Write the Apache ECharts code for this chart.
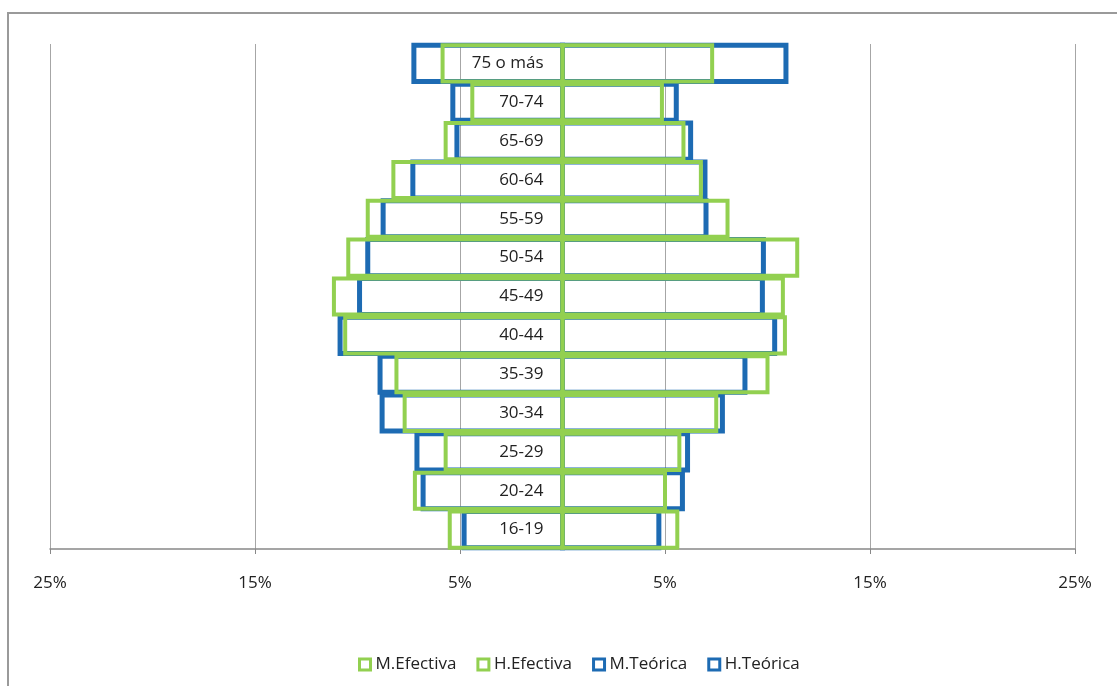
<!DOCTYPE html>
<html>
<head>
<meta charset="utf-8">
<script src="https://cdn.jsdelivr.net/npm/echarts@6/dist/echarts.min.js"></script>
<style>
  html, body { margin: 0; padding: 0; background: #fff; }
  #chart { width: 1117px; height: 686px; }
</style>
</head>
<body>
<div id="chart"></div>
<script>
// age groups, bottom to top
const ageGroups = ['16-19', '20-24', '25-29', '30-34', '35-39', '40-44', '45-49',
  '50-54', '55-59', '60-64', '65-69', '70-74', '75 o más'];

// percentages (women on the left side, men on the right side)
const mEfectiva = [5.5, 7.2, 5.7, 7.7, 8.1, 10.6, 11.15, 10.45, 9.5, 8.25, 5.7, 4.4, 5.85];
const hEfectiva = [5.6, 5.0, 5.7, 7.5, 10.0, 10.85, 10.75, 11.45, 8.05, 6.75, 5.9, 4.85, 7.3];
const mTeorica = [4.8, 6.8, 7.1, 8.8, 8.9, 10.85, 9.9, 9.5, 8.75, 7.3, 5.15, 5.35, 7.25];
const hTeorica = [4.7, 5.85, 6.1, 7.8, 8.9, 10.35, 9.75, 9.8, 7.0, 6.95, 6.25, 5.55, 10.9];

const axisTicks = [-25, 25, 10];

const green = '#92D050';
const blue = '#1D6BB3';
const font = 'Open Sans';

const chart = echarts.init(document.getElementById('chart'), null, { renderer: 'canvas' });

// outlined bars, stroke centred on the bar edge like the original
function barSeries(name, data, color, width, left) {
  return {
    name: name,
    type: 'custom',
    encode: { x: 0, y: 1 },
    data: data.map((v, i) => [left ? -v : v, i]),
    itemStyle: { color: color },
    renderItem: function (params, api) {
      const cat = api.value(1);
      const p0 = api.coord([0, cat]);
      const p1 = api.coord([api.value(0), cat]);
      const h = api.size([0, 1])[1] * 0.93;
      return {
        type: 'rect',
        shape: {
          x: Math.min(p0[0], p1[0]),
          y: p0[1] - h / 2,
          width: Math.abs(p1[0] - p0[0]),
          height: h
        },
        style: { fill: 'none', stroke: color, lineWidth: width }
      };
    },
    emphasis: { disabled: true }
  };
}

const legendIcon = (name, color) => ({
  name: name,
  itemStyle: { color: '#fff', borderColor: color, borderWidth: 3 }
});

const frame = { stroke: '#9a9a9a', lineWidth: 2 };

const opt = {
  animation: false,
  textStyle: { fontFamily: font },
  graphic: [
    { type: 'line', z: 100, silent: true, shape: { x1: 7, y1: 13, x2: 1117, y2: 13 }, style: frame },
    { type: 'line', z: 100, silent: true, shape: { x1: 8, y1: 12, x2: 8, y2: 686 }, style: frame }
  ],
  grid: {
    left: 50,
    right: 42,
    top: 44,
    bottom: 137,
    outerBoundsMode: 'none'
  },
  legend: {
    left: 353,
    top: 651,
    itemWidth: 11,
    itemHeight: 11,
    itemGap: 20,
    icon: 'rect',
    textStyle: { fontFamily: font, fontSize: 17, color: '#222' },
    data: [
      legendIcon('M.Efectiva', green),
      legendIcon('H.Efectiva', green),
      legendIcon('M.Teórica', blue),
      legendIcon('H.Teórica', blue)
    ]
  },
  xAxis: {
    type: 'value',
    min: axisTicks[0],
    max: axisTicks[1],
    interval: axisTicks[2],
    axisLine: { show: true, lineStyle: { color: '#888', width: 1.5 } },
    axisTick: { show: true, length: 5, lineStyle: { color: '#888' } },
    splitLine: { show: true, lineStyle: { color: '#a6a6a6', width: 1 } },
    axisLabel: {
      margin: 26,
      fontSize: 17,
      color: '#222',
      fontFamily: font,
      formatter: (v) => Math.abs(v) + '%'
    }
  },
  yAxis: {
    type: 'category',
    data: ageGroups,
    offset: -512.5,
    axisLine: { show: true, onZero: false, lineStyle: { color: '#888', width: 1.5 } },
    axisTick: { show: true, length: 4, lineStyle: { color: '#888' } },
    splitLine: { show: false },
    axisLabel: {
      margin: 19,
      fontSize: 17,
      color: '#222',
      fontFamily: font
    }
  },
  series: [
    barSeries('M.Teórica', mTeorica, blue, 5, true),
    barSeries('H.Teórica', hTeorica, blue, 5, false),
    barSeries('M.Efectiva', mEfectiva, green, 4, true),
    barSeries('H.Efectiva', hEfectiva, green, 4, false)
  ]
};

chart.setOption(opt);
</script>
</body>
</html>
